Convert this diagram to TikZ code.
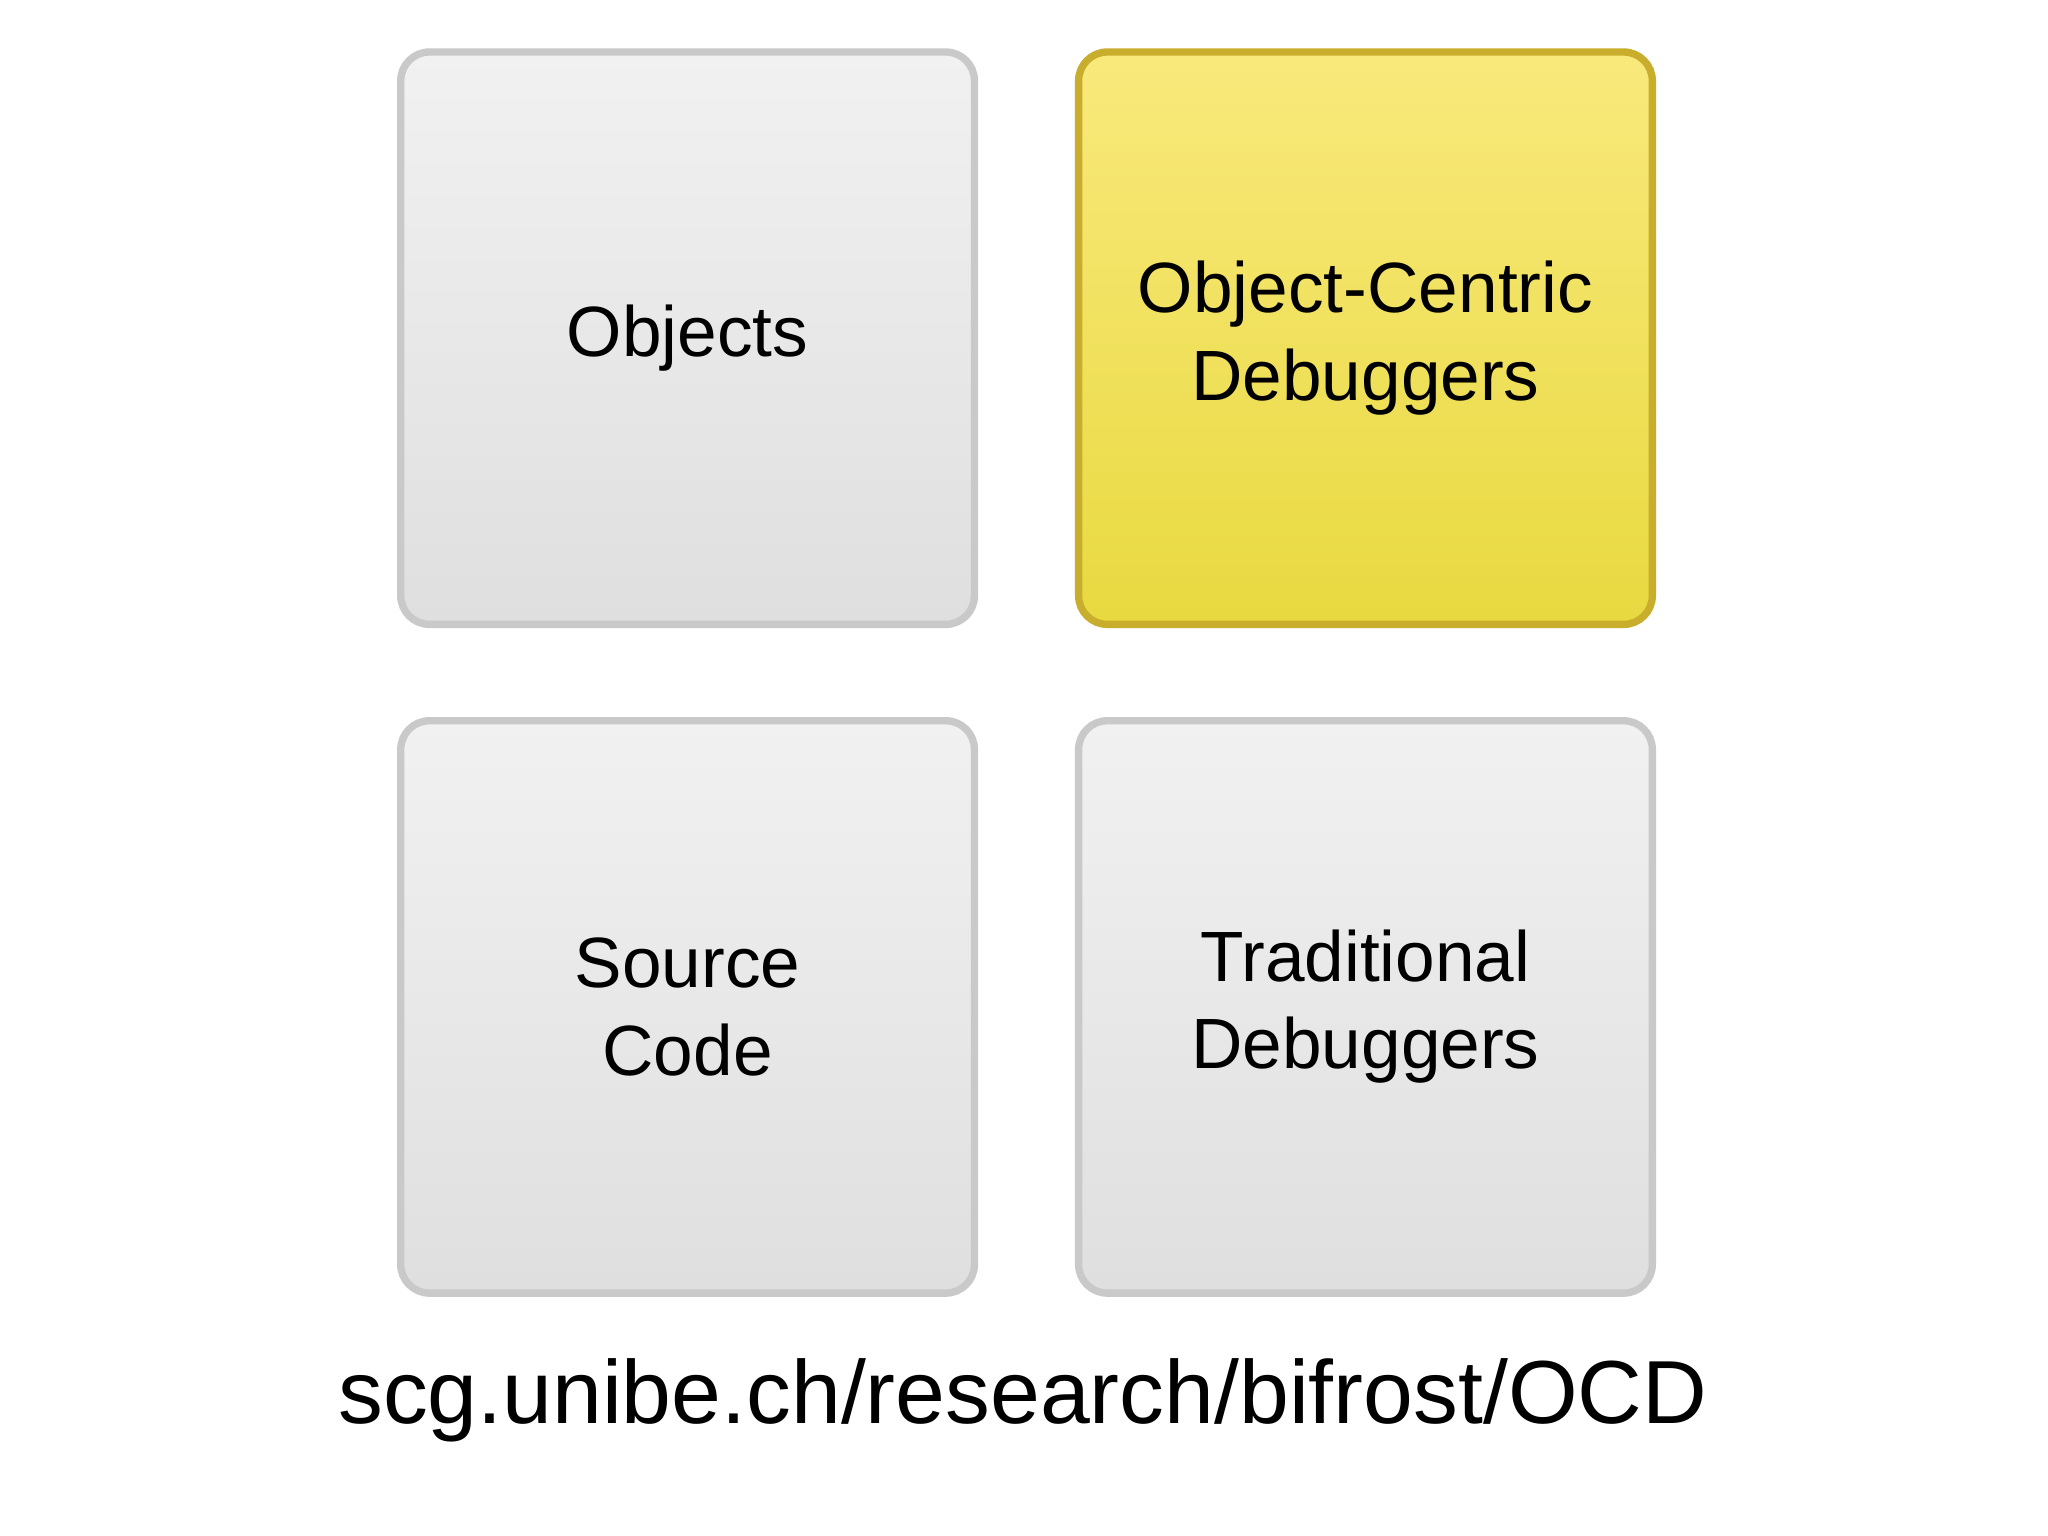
\documentclass[tikz,border=0pt]{standalone}
\usepackage{fontspec}
\setmainfont{Liberation Sans}
\definecolor{gtop}{HTML}{F1F1F1}
\definecolor{gbot}{HTML}{DFDFDF}
\definecolor{gline}{HTML}{C9C9C9}
\definecolor{ytop}{HTML}{F9E97C}
\definecolor{ybot}{HTML}{E8D940}
\definecolor{yline}{HTML}{C8AE2C}
\tikzset{
 card/.style={rounded corners=0.22cm, line width=1.6pt, draw=gline, top color=gtop, bottom color=gbot,
   minimum width=4.39cm, minimum height=4.38cm, anchor=north west, align=center, font=\fontsize{15.5}{19}\selectfont, inner sep=0pt},
 ycard/.style={card, draw=yline, top color=ytop, bottom color=ybot}
}
\begin{document}
\begin{tikzpicture}[x=0.01cm,y=-0.01cm]
\useasboundingbox[fill=white] (0,0) rectangle (1568,1176);
\node[card] (objects) at (304,37) {Objects};
\node[ycard] (ocd) at (823,37) {Object-Centric\\Debuggers};
\node[card] (source) at (304,549) {Source\\Code};
\node[card] (trad) at (823,549) {Traditional\\Debuggers};
\node[font=\fontsize{19.5}{23}\selectfont, anchor=base] (url) at (783,1090) {scg.unibe.ch/research/bifrost/OCD};
\end{tikzpicture}
\end{document}
